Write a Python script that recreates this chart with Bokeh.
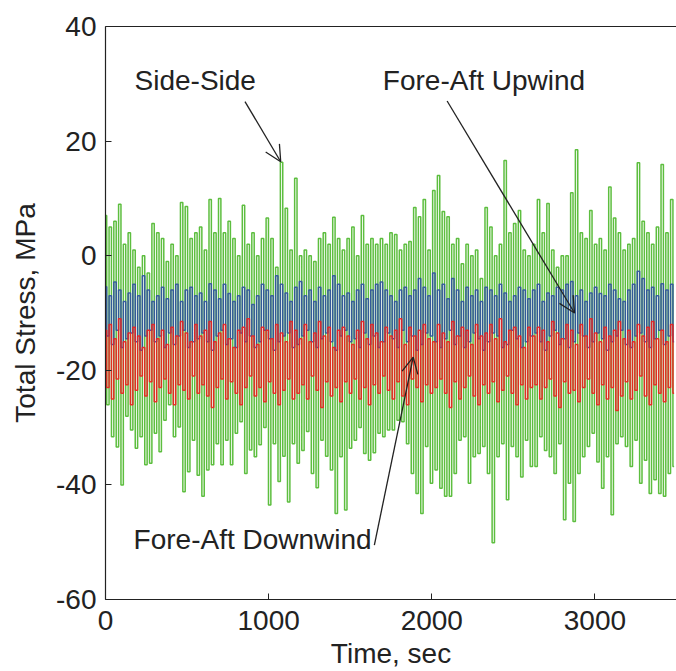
import numpy as np
from bokeh.plotting import figure
from bokeh.models import Range1d, LinearAxis, Label, Arrow, OpenHead, FixedTicker
from bokeh.embed import file_html
from bokeh.resources import INLINE

# ---------------- data ----------------
duration_sec = 3500.0

side_side_high = [7, 5, 6, 9, 2, 4, 1, -2, 0, -3,
                  5.6, 4, 3, -1, 2, 0, 9.3, 8.6, 3, 4,
                  5, 1, 9.8, 4, 10, 4, 6, 3, 0, 8.8,
                  2, 4, 0, 3, 6.6, 3, -2, 16.3, 8.3, 1,
                  13.5, 0, 1, 0, -1, 3, 4, 2, 6.7, 3,
                  1, 3, 5, 0, 7, 2, 3, 2, 3, 2,
                  4, 3.7, 1, 2, 2.5, 8.4, 6.8, 9.8, 1, 11.4,
                  14, 7.7, 6.8, 2, 3, -1.4, 2, 0, 1, -4,
                  8.4, 5, 0, 2, 16.6, 4, 5.6, 7.9, 1, 0,
                  2, 9.8, 4, 9.1, 1, -2, 0, 0, 11, 18.5,
                  4, 3, 7.9, 2, 3, 1, 12, 6.6, 4, 1,
                  2, 3, 16.2, 6, 4, 2, 5, 15.9, 4, 9.8]
side_side_low = [-26, -31.6, -33.4, -40, -28, -30.4, -33.6, -31.6, -36.5, -36.2,
                 -31, -34.2, -28.7, -26, -31.6, -29.9, -41.2, -37.7, -32.2, -38.3,
                 -42, -37.4, -36.5, -32.8, -36.5, -32.2, -36.5, -31, -29, -38,
                 -33.9, -35.1, -33, -30, -43.5, -32.8, -39.4, -35, -43, -32.8,
                 -36.2, -34, -30.7, -38, -40.5, -32.2, -35, -37.4, -45, -35.1,
                 -44.4, -33.6, -32.2, -30, -34.5, -35.7, -34.4, -31, -31.6, -30.4,
                 -30.4, -28.7, -29, -32.8, -38, -41.5, -45, -33.3, -39.7, -37.4,
                 -40.6, -42, -42, -38, -32.2, -31.6, -39.7, -35.1, -34.5, -33.3,
                 -38, -50.1, -35.1, -32.8, -42.6, -33.3, -35.1, -38.6, -32.2, -36.8,
                 -36.8, -31.6, -34, -35.1, -38, -32.8, -46.1, -39.7, -46.4, -38,
                 -35.1, -33.3, -31, -36, -40.6, -35.1, -45.2, -32.8, -31.6, -33.3,
                 -36.8, -32.2, -39.7, -35.7, -41.5, -39.1, -41.5, -42, -38, -36.8]

upwind_high = [-5.4, -7, -4.6, -6, -8, -6.5, -5, -7, -3.5, -6,
               -8, -7, -5.5, -7.5, -6, -5, -8, -6, -5.5, -7,
               -6.5, -8, -4.9, -6, -7.5, -5, -6.6, -8, -7, -5.5,
               -6, -8.5, -7, -5, -6, -7, -3.5, -5, -6.5, -8,
               -5.5, -4.5, -7, -6, -8, -5.5, -7, -6, -3.5, -5,
               -7, -6.5, -8, -6, -5, -7.5, -6, -5, -4.6, -6,
               -7, -8, -6, -5.5, -7, -6, -4, -5.5, -7, -3,
               -6, -5, -7.5, -4, -6, -8, -5.5, -7, -6, -8,
               -5.5, -6, -7, -5, -6.5, -8, -7, -5.5, -6, -7.5,
               -6, -5, -8, -6.5, -7, -5.5, -6, -5, -4.5, -7,
               -6, -8, -6.5, -5.5, -6.6, -7, -5, -6, -7.5, -8,
               -6, -5, -2.7, -4, -6, -5.5, -7, -4.9, -6, -5]
upwind_low = [-14, -15.5, -13, -16, -14.5, -13.5, -15, -16.5, -14, -13,
              -15, -14, -16, -13.5, -15.5, -14, -13, -16, -15, -14.5,
              -13.5, -15, -16.5, -14, -13, -15.5, -14.5, -16, -13.5, -15,
              -14, -16, -15, -13, -14.5, -16.5, -15, -14, -13.5, -16,
              -15.5, -14, -13, -15, -16, -14.5, -13.5, -15, -16.5, -14,
              -13, -15, -14.5, -16, -13.5, -15.5, -14, -16, -15, -13.5,
              -14.5, -16, -13, -15, -14, -16.5, -15.5, -13.5, -14, -15,
              -16, -14.5, -13, -15.5, -14, -16, -15, -13.5, -14.5, -16.5,
              -15, -13.5, -14, -16, -15.5, -13, -14.5, -16, -15, -14,
              -13.5, -15, -16.5, -14, -13, -15.5, -14.5, -16, -15, -13.5,
              -14, -16, -15, -13.5, -14.5, -16.5, -15, -14, -13, -15.5,
              -16, -14, -13.5, -15, -16, -14.5, -13, -15.5, -14, -15]

downwind_high = [-13, -12, -14.5, -11, -15, -13.5, -12.5, -14, -16, -13,
                 -12, -14.5, -13, -15.5, -12.5, -14, -11.5, -13.5, -15, -12,
                 -14, -13, -11.5, -15, -13.5, -12, -14.5, -16, -13, -12.5,
                 -11, -14, -15.5, -12.5, -13, -14.5, -12, -13.5, -15, -11.5,
                 -13, -14.5, -12, -15, -13.5, -11.5, -14, -12.5, -16, -13,
                 -12.5, -14, -15.5, -13, -11.5, -14.5, -12, -13.5, -15, -12.5,
                 -14, -13, -11, -15.5, -12.5, -14, -13, -12, -14.5, -15,
                 -12, -13.5, -15, -11.5, -14, -12.5, -13, -15.5, -12, -14,
                 -13.5, -12, -14.5, -11, -15, -13, -12.5, -14, -16, -12.5,
                 -14, -12.5, -13, -15, -11.5, -13.5, -14.5, -12, -13, -15.5,
                 -12, -14, -11, -13.5, -15, -12.5, -14, -13, -11.5, -14.5,
                 -13, -15, -12, -14, -12.5, -11.5, -14.5, -13, -15, -12]
downwind_low = [-23, -25, -21.5, -24, -22.5, -26, -23.5, -21, -24.5, -22,
                -25.5, -23, -21.5, -24, -26, -22.5, -23.5, -25, -21, -24,
                -22.5, -24.5, -26.5, -23, -21.5, -25, -22, -24, -26, -23,
                -21, -24.5, -23, -25.5, -22, -24, -26, -23.5, -21.5, -25,
                -24, -22.5, -25, -21, -23.5, -26.5, -22, -24.5, -23, -25.5,
                -22, -24, -21.5, -25, -23, -26, -22.5, -24, -21, -23.5,
                -25, -22, -24.5, -26, -21.5, -23, -25.5, -22.5, -24, -23,
                -21.5, -24, -26.5, -22, -25, -23, -21, -24.5, -26, -22.5,
                -24, -22, -25.5, -23.5, -21, -24, -26, -22.5, -25, -23,
                -22.5, -25, -23, -21.5, -24.5, -26.5, -22, -24, -23.5, -25.5,
                -23, -21.5, -24, -26, -22.5, -25, -23, -27, -24.5, -22,
                -25, -23.5, -21, -24.5, -26, -22.5, -24, -25.5, -23, -24]

x_ticks = [0, 1000, 2000, 3000]
y_ticks = [-60, -40, -20, 0, 20, 40]


def series(high, low):
    vals = []
    for h, l in zip(high, low):
        vals += [h, l]
    t = np.arange(len(vals)) * (duration_sec / len(vals))
    return t, vals


FONT = "Liberation Sans"
INK = "#222222"
FS = "28px"

p = figure(width=676, height=671, output_backend="svg", toolbar_location=None,
           x_range=Range1d(0, 3500), y_range=Range1d(-60, 40),
           x_axis_label="Time, sec", y_axis_label="Total Stress, MPa",
           min_border_left=105, min_border_right=0, min_border_top=26,
           min_border_bottom=71)
p.outline_line_color = None
p.grid.visible = False
p.background_fill_color = "white"
p.border_fill_color = "white"

for ax in (p.xaxis[0], p.yaxis[0]):
    ax.major_tick_in = 6
    ax.major_tick_out = 0
    ax.minor_tick_line_color = None
    ax.axis_line_color = INK
    ax.axis_line_width = 1.2
    ax.major_tick_line_color = INK
    ax.major_label_text_font = FONT
    ax.major_label_text_font_size = FS
    ax.major_label_text_color = INK
    ax.axis_label_text_font = FONT
    ax.axis_label_text_font_size = FS
    ax.axis_label_text_font_style = "normal"
    ax.axis_label_text_color = INK
p.xaxis.ticker = FixedTicker(ticks=x_ticks)
p.yaxis.ticker = FixedTicker(ticks=y_ticks)
p.yaxis.major_label_overrides = {v: str(v) for v in y_ticks}
p.xaxis.major_label_standoff = 11
p.xaxis.axis_label_standoff = 5
p.yaxis.major_label_standoff = 9
p.yaxis.axis_label_standoff = 12

top = LinearAxis(ticker=FixedTicker(ticks=[]), major_label_text_font_size="0px",
                 major_tick_line_color=None, minor_tick_line_color=None,
                 axis_line_color=INK, axis_line_width=1.2)
p.add_layout(top, "above")

t, g = series(side_side_high, side_side_low)
p.step(t, g, mode="center", line_color="#5DBE3F", line_width=1.5)
t, b = series(upwind_high, upwind_low)
p.step(t, b, mode="center", line_color="#2F4FA3", line_width=1.5, line_alpha=0.9)
t, r = series(downwind_high, downwind_low)
p.step(t, r, mode="center", line_color="#EE1E1E", line_width=1.5, line_alpha=0.9)

for x, y, txt in [(178, 30.5, "Side-Side"), (1700, 30.5, "Fore-Aft Upwind"),
                  (172, -49.6, "Fore-Aft Downwind")]:
    p.add_layout(Label(x=x, y=y, text=txt, text_font=FONT, text_font_size=FS,
                       text_baseline="middle", text_color=INK))

for xs, ys, xe, ye in [(855, 26.9, 1074, 16.4), (2094, 27.0, 2875, -10.0),
                       (1648, -50.5, 1886, -17.7)]:
    p.add_layout(Arrow(end=OpenHead(size=16, line_width=1.3, line_color=INK),
                       x_start=xs, y_start=ys, x_end=xe, y_end=ye,
                       line_width=1.3, line_color=INK))

open("out.html", "w").write(file_html(p, INLINE))
